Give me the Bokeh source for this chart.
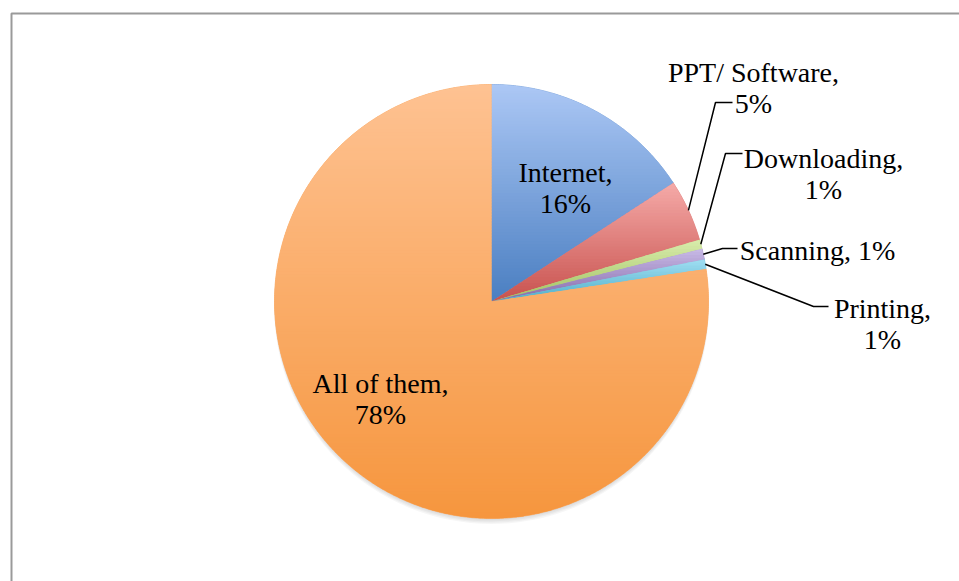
import numpy as np
from bokeh.plotting import figure
from bokeh.models import Range1d
from bokeh.core.properties import value
from bokeh.embed import file_html
from bokeh.resources import INLINE

# ---------------- data ----------------
categories = ["Internet", "PPT/ Software", "Downloading", "Scanning", "Printing", "All of them"]
shares = [15.8, 4.6, 0.7, 0.8, 0.7, 77.4]
pct_labels = ["16%", "5%", "1%", "1%", "1%", "78%"]

# ---------------- styles ----------------
top_colors = [(172, 200, 245), (245, 170, 168), (216, 236, 172), (200, 186, 230), (160, 222, 242), (254, 194, 146)]
bottom_colors = [(74, 126, 193), (200, 82, 78), (160, 192, 96), (132, 104, 168), (78, 174, 200), (246, 150, 62)]

W, H = 959, 581
CX, CY, R = 491, 301, 217
FONT = value("Liberation Serif")
FSIZE = "28px"

# label layout: (center x, first baseline, single line?)
label_layout = [
    (565, 172, False),
    (753, 72, False),
    (823, 158, False),
    (817, 250, True),
    (882, 308, False),
    (380, 383, False),
]
LINE_GAP = 31
# leader lines: (elbow x, elbow y, end x) ; None = no leader
leaders = [None, (715, 102, 732), (725, 153, 742), (722, 248, 737), (813, 306, 828), None]

p = figure(width=W, height=H, x_range=Range1d(0, W), y_range=Range1d(H, 0),
           output_backend="svg", toolbar_location=None, min_border=0,
           x_axis_location=None, y_axis_location=None)
p.grid.visible = False
p.outline_line_color = None
p.background_fill_color = "white"
p.border_fill_color = "white"

# chart border (cropped frame)
p.line(x=[11, 11, W + 5], y=[H + 5, 13, 13], line_color="#9a9a9a", line_width=2)

# soft shadow
for k in range(1, 6):
    p.circle(x=[CX], y=[CY + k], radius=R - 1 + k * 0.3, fill_color="#000000",
             fill_alpha=0.035, line_color=None)


def clip(poly, y0, y1):
    def clip_edge(pts, inside, yc):
        out = []
        n = len(pts)
        for i in range(n):
            cur = pts[i]
            prev = pts[i - 1]
            def inter(a, b):
                t = (yc - a[1]) / (b[1] - a[1])
                return (a[0] + t * (b[0] - a[0]), yc)
            if inside(cur):
                if not inside(prev):
                    out.append(inter(prev, cur))
                out.append(cur)
            elif inside(prev):
                out.append(inter(prev, cur))
        return out
    pts = clip_edge(poly, lambda q: q[1] >= y0, y0)
    if len(pts) < 3:
        return []
    pts = clip_edge(pts, lambda q: q[1] <= y1, y1)
    return pts if len(pts) >= 3 else []


def hexc(c):
    return "#%02x%02x%02x" % tuple(int(round(v)) for v in c)


base_xs, base_ys, base_cols = [], [], []
xs, ys, cols = [], [], []
total = sum(shares)
cum = 0.0
mids = []
for i, s in enumerate(shares):
    a0 = cum / total * 360.0
    a1 = (cum + s) / total * 360.0
    cum += s
    mids.append((a0 + a1) / 2)
    n = max(4, int((a1 - a0) * 2))
    th = np.radians(np.linspace(a0, a1, n))
    poly = [(CX, CY)] + [(CX + R * np.sin(t), CY - R * np.cos(t)) for t in th]
    ymin = min(q[1] for q in poly)
    ymax = max(q[1] for q in poly)
    midc = [(top_colors[i][j] + bottom_colors[i][j]) / 2 for j in range(3)]
    base_xs.append([q[0] for q in poly])
    base_ys.append([q[1] for q in poly])
    base_cols.append(hexc(midc))
    nb = max(6, int((ymax - ymin) / 3))
    edges = np.linspace(ymin, ymax, nb + 1)
    for b in range(nb):
        hi = edges[b + 1] + (0.8 if b < nb - 1 else 0.0)
        part = clip(poly, edges[b], hi)
        if not part:
            continue
        t = (b + 0.5) / nb
        c = [top_colors[i][j] + (bottom_colors[i][j] - top_colors[i][j]) * t for j in range(3)]
        xs.append([q[0] for q in part])
        ys.append([q[1] for q in part])
        cols.append(hexc(c))

p.patches(xs=base_xs, ys=base_ys, fill_color=base_cols, line_color=base_cols, line_width=0.8)
p.patches(xs=xs, ys=ys, fill_color=cols, line_color=None)

# leader lines
for i, ld in enumerate(leaders):
    if ld is None:
        continue
    t = np.radians(mids[i])
    sx, sy = CX + R * np.sin(t), CY - R * np.cos(t)
    ex, ey, endx = ld
    p.line(x=[sx, ex, endx], y=[sy, ey, ey], line_color="black", line_width=1.5)

# labels
tx, ty, tt = [], [], []
for i, (lx, ly, single) in enumerate(label_layout):
    if single:
        tx.append(lx); ty.append(ly); tt.append(categories[i] + ", " + pct_labels[i])
    else:
        tx += [lx, lx]
        ty += [ly, ly + LINE_GAP]
        tt += [categories[i] + ",", pct_labels[i]]
p.text(x=tx, y=ty, text=tt, text_align="center", text_baseline="alphabetic",
       text_font=FONT, text_font_size=FSIZE, text_color="black")

open("out.html", "w").write(file_html(p, INLINE))
